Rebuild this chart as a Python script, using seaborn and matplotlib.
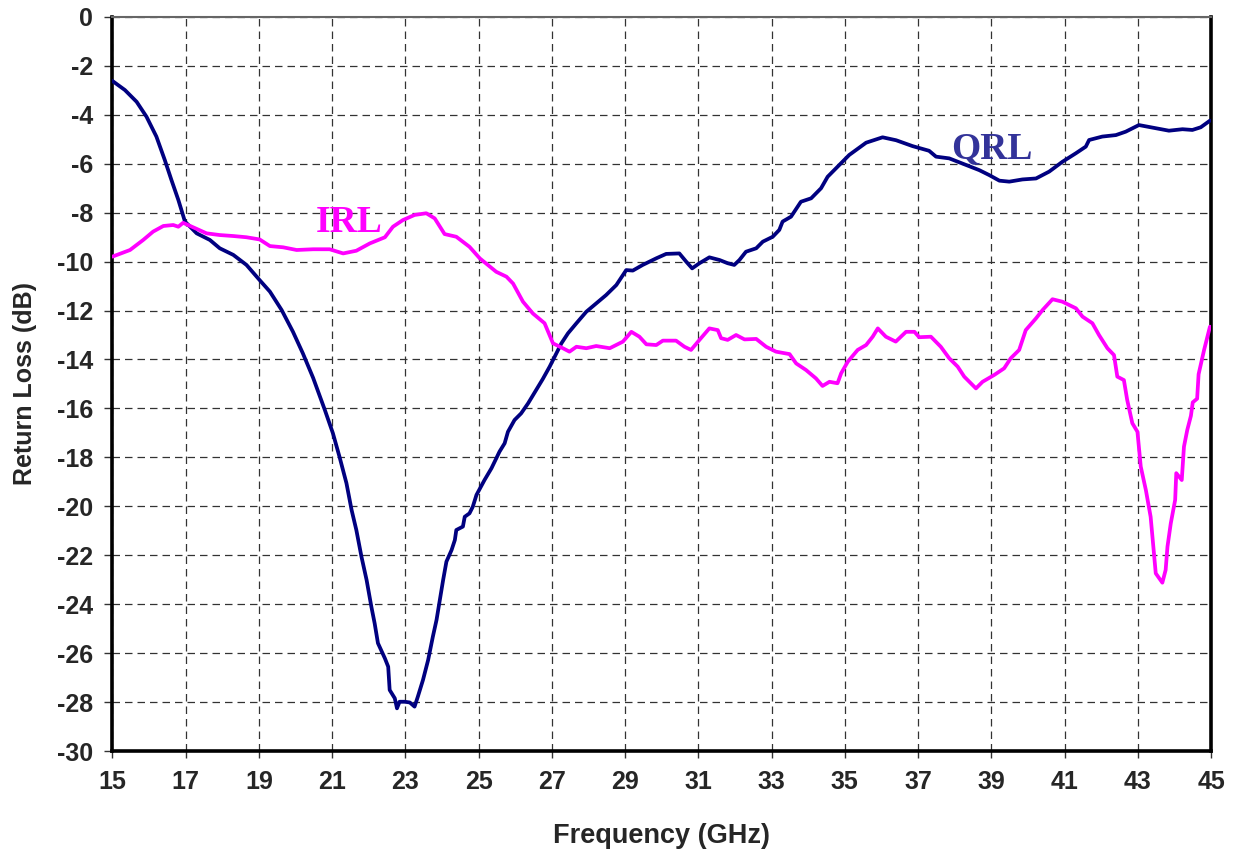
import numpy as np
import pandas as pd
import seaborn as sns
import matplotlib
matplotlib.use("Agg")
import matplotlib.pyplot as plt

qrl_freq = [15.0, 15.34, 15.66, 15.93, 16.2, 16.43, 16.61, 16.8, 16.98, 17.3, 17.66, 17.93, 18.3, 18.66,
            19.02, 19.3, 19.62, 19.93, 20.2, 20.48, 20.8, 21.02, 21.2, 21.39, 21.53, 21.66, 21.8, 21.94,
            22.07, 22.16, 22.25, 22.44, 22.53, 22.57, 22.71, 22.77, 22.84, 22.98, 23.12, 23.25, 23.34,
            23.48, 23.62, 23.75, 23.85, 23.94, 24.03, 24.12, 24.26, 24.35, 24.39, 24.57, 24.62, 24.75,
            24.84, 24.94, 25.16, 25.35, 25.57, 25.71, 25.8, 25.98, 26.16, 26.35, 26.57, 26.75, 26.94,
            27.12, 27.26, 27.44, 27.67, 27.94, 28.21, 28.48, 28.76, 29.03, 29.21, 29.48, 29.85, 30.12,
            30.48, 30.67, 30.83, 31.03, 31.3, 31.58, 31.8, 31.98, 32.12, 32.3, 32.58, 32.76, 33.03,
            33.21, 33.3, 33.53, 33.8, 34.08, 34.35, 34.53, 34.85, 35.12, 35.58, 36.03, 36.4, 36.85,
            37.3, 37.49, 37.85, 38.31, 38.67, 38.94, 39.22, 39.49, 39.85, 40.22, 40.58, 40.94, 41.31,
            41.58, 41.67, 42.03, 42.4, 42.67, 43.03, 43.49, 43.85, 44.22, 44.49, 44.72, 44.97]
qrl_db = [-2.63, -3.0, -3.48, -4.09, -4.9, -5.86, -6.67, -7.49, -8.37, -8.85, -9.12, -9.46, -9.73, -10.14,
          -10.76, -11.23, -11.98, -12.87, -13.75, -14.75, -16.06, -17.01, -17.97, -19.05, -20.14, -20.96,
          -22.05, -23.0, -24.09, -24.77, -25.58, -26.2, -26.54, -27.49, -27.83, -28.24, -27.97, -27.97,
          -28.0, -28.17, -27.76, -27.08, -26.27, -25.31, -24.63, -23.82, -23.0, -22.25, -21.78, -21.37,
          -20.96, -20.82, -20.42, -20.28, -20.01, -19.53, -18.92, -18.44, -17.76, -17.42, -16.95, -16.47,
          -16.2, -15.79, -15.25, -14.8, -14.29, -13.75, -13.34, -12.93, -12.52, -12.05, -11.71, -11.37,
          -10.96, -10.35, -10.37, -10.14, -9.87, -9.69, -9.67, -10.01, -10.28, -10.07, -9.83, -9.94,
          -10.07, -10.14, -9.94, -9.6, -9.46, -9.19, -8.99, -8.71, -8.37, -8.17, -7.56, -7.42, -7.01,
          -6.54, -6.06, -5.65, -5.15, -4.93, -5.05, -5.29, -5.48, -5.72, -5.79, -6.06, -6.27, -6.47,
          -6.7, -6.74, -6.65, -6.61, -6.33, -5.93, -5.58, -5.31, -5.04, -4.9, -4.84, -4.7, -4.43,
          -4.56, -4.66, -4.6, -4.63, -4.52, -4.25]

irl_freq = [15.0, 15.48, 15.84, 16.11, 16.39, 16.66, 16.8, 16.93, 17.2, 17.57, 17.93, 18.3, 18.66, 19.02,
            19.3, 19.66, 20.03, 20.48, 20.93, 21.3, 21.66, 22.03, 22.44, 22.66, 22.93, 23.25, 23.57,
            23.8, 24.07, 24.39, 24.75, 25.03, 25.48, 25.76, 25.94, 26.21, 26.48, 26.8, 27.03, 27.3,
            27.48, 27.67, 27.94, 28.21, 28.58, 28.94, 29.17, 29.39, 29.58, 29.85, 30.03, 30.39, 30.62,
            30.8, 31.03, 31.3, 31.53, 31.62, 31.8, 32.03, 32.26, 32.58, 32.85, 33.12, 33.49, 33.67,
            33.94, 34.21, 34.39, 34.58, 34.8, 34.9, 35.08, 35.35, 35.58, 35.76, 35.9, 36.12, 36.39,
            36.67, 36.9, 37.03, 37.35, 37.62, 37.85, 38.08, 38.26, 38.44, 38.58, 38.76, 39.08, 39.35,
            39.53, 39.76, 39.94, 40.22, 40.4, 40.67, 40.94, 41.31, 41.49, 41.76, 41.94, 42.17, 42.35,
            42.44, 42.62, 42.71, 42.85, 42.99, 43.08, 43.22, 43.35, 43.44, 43.49, 43.67, 43.76, 43.81,
            43.9, 44.02, 44.05, 44.2, 44.26, 44.35, 44.45, 44.5, 44.62, 44.66, 44.81, 44.97]
irl_db = [-9.8, -9.53, -9.12, -8.78, -8.55, -8.51, -8.58, -8.42, -8.6, -8.85, -8.92, -8.96, -9.01, -9.1,
          -9.37, -9.42, -9.53, -9.5, -9.5, -9.67, -9.56, -9.26, -9.01, -8.58, -8.31, -8.1, -8.03,
          -8.24, -8.88, -8.99, -9.4, -9.87, -10.42, -10.62, -10.9, -11.64, -12.12, -12.52, -13.34,
          -13.54, -13.68, -13.48, -13.54, -13.45, -13.54, -13.27, -12.87, -13.07, -13.38, -13.41,
          -13.23, -13.23, -13.48, -13.61, -13.2, -12.73, -12.8, -13.13, -13.2, -13.0, -13.18, -13.16,
          -13.48, -13.68, -13.78, -14.16, -14.43, -14.77, -15.08, -14.91, -14.97, -14.56, -14.09,
          -13.61, -13.41, -13.07, -12.73, -13.07, -13.27, -12.87, -12.87, -13.09, -13.07, -13.48,
          -13.95, -14.29, -14.7, -14.97, -15.18, -14.91, -14.63, -14.36, -13.95, -13.61, -12.8,
          -12.32, -11.98, -11.54, -11.64, -11.91, -12.25, -12.52, -13.0, -13.54, -13.82, -14.7,
          -14.84, -15.65, -16.6, -16.95, -18.37, -19.33, -20.42, -21.91, -22.73, -23.11, -22.59,
          -21.64, -20.69, -19.73, -18.64, -18.92, -17.56, -16.88, -16.3, -15.75, -15.6, -14.6,
          -13.61, -12.66]

series_names = ["QRL", "IRL"]
x_ticks = list(range(15, 46, 2))
y_ticks = list(range(-30, 1, 2))

df = pd.concat([
    pd.DataFrame({"Frequency": qrl_freq, "RL": qrl_db, "Series": "QRL"}),
    pd.DataFrame({"Frequency": irl_freq, "RL": irl_db, "Series": "IRL"}),
], ignore_index=True)

sns.set_style("white")
plt.rcParams["font.family"] = ["Liberation Sans", "DejaVu Sans"]

fig = plt.figure(figsize=(12.33, 8.52), dpi=100)
ax = fig.add_axes([0.0912, 0.1180, 0.8910, 0.8626])

palette = {"QRL": "#000080", "IRL": "#FF00FF"}
sns.lineplot(data=df, x="Frequency", y="RL", hue="Series", palette=palette,
             sort=False, estimator=None, linewidth=2.7, legend=False, ax=ax, zorder=3)

ax.set_xlim(15, 45)
ax.set_ylim(-30, 0)
ax.set_xticks(x_ticks)
ax.set_yticks(y_ticks)
ax.set_xticklabels([str(t) for t in x_ticks], fontsize=18, fontweight="bold")
ax.set_yticklabels([str(t) for t in y_ticks], fontsize=18, fontweight="bold")
ax.tick_params(axis="x", direction="out", length=5, width=1, color="#333333", pad=8, bottom=True)
ax.tick_params(axis="y", direction="out", length=6, width=1, color="#333333", pad=8, left=True)

ax.grid(True, color="#333333", linestyle=(0, (6, 4)), linewidth=0.9)
ax.set_axisbelow(True)

for side in ["left", "bottom", "right"]:
    ax.spines[side].set_color("black")
    ax.spines[side].set_linewidth(2.6)
    ax.spines[side].set_visible(True)
ax.spines["top"].set_color("#666666")
ax.spines["top"].set_linewidth(1.5)
ax.spines["top"].set_visible(True)

ax.set_xlabel("Frequency (GHz)", fontsize=19.5, fontweight="bold", labelpad=21)
ax.set_ylabel("Return Loss (dB)", fontsize=18, fontweight="bold", labelpad=14)

ax.text(21.45, -8.4, "IRL", color="#FF00FF", fontsize=27, fontweight="bold",
        family=["Liberation Serif", "DejaVu Serif"], ha="center", va="center", zorder=4)
ax.text(39.0, -5.4, "QRL", color="#333399", fontsize=27, fontweight="bold",
        family=["Liberation Serif", "DejaVu Serif"], ha="center", va="center", zorder=4)

fig.savefig("out.png", dpi=100)
